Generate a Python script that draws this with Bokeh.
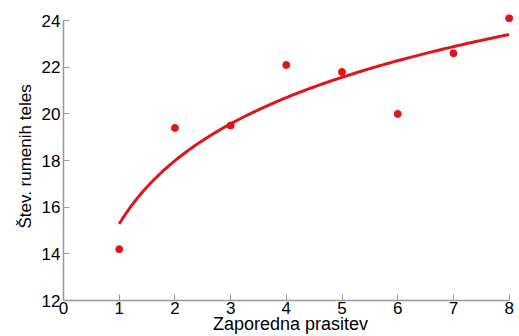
import numpy as np
from bokeh.plotting import figure
from bokeh.models import ColumnDataSource, FixedTicker
from bokeh.embed import file_html
from bokeh.resources import INLINE

# Data
litter_order = [1, 2, 3, 4, 5, 6, 7, 8]
corpora_lutea = [14.2, 19.4, 19.5, 22.1, 21.8, 20.0, 22.6, 24.1]
x_ticks = [0, 1, 2, 3, 4, 5, 6, 7, 8]
y_ticks = [12, 14, 16, 18, 20, 22, 24]

# Logarithmic trend line fitted to the points
b, a = np.polyfit(np.log(litter_order), corpora_lutea, 1)
xs = np.linspace(1, 8, 200)
ys = a + b * np.log(xs)

RED = "#e0141b"
FONT = "Liberation Sans"

p = figure(width=519, height=336, x_range=(0, 8.15), y_range=(12, 24.35),
           output_backend="svg", toolbar_location=None,
           min_border_left=63, min_border_right=2, min_border_top=12,
           min_border_bottom=36)

p.line(xs, ys, color=RED, line_width=3)
src = ColumnDataSource(dict(x=litter_order, y=corpora_lutea))
p.scatter("x", "y", source=src, size=7, color=RED)

p.grid.visible = False
p.outline_line_color = None
p.background_fill_color = "white"
p.border_fill_color = "white"

for ax in (p.xaxis[0], p.yaxis[0]):
    ax.axis_line_color = "#999999"
    ax.axis_line_width = 1.5
    ax.major_tick_line_color = "#999999"
    ax.major_tick_in = 6
    ax.major_tick_out = 0
    ax.minor_tick_line_color = None
    ax.major_label_text_font = FONT
    ax.major_label_text_font_size = "17px"
    ax.major_label_text_color = "black"
    ax.axis_label_text_font = FONT
    ax.axis_label_text_font_style = "normal"
    ax.axis_label_text_color = "black"

p.xaxis.bounds = (0, 8)
p.yaxis.bounds = (12, 24)
p.xaxis.ticker = FixedTicker(ticks=x_ticks)
p.yaxis.ticker = FixedTicker(ticks=y_ticks)
p.xaxis.axis_label = "Zaporedna prasitev"
p.yaxis.axis_label = "Štev. rumenih teles"
p.xaxis.axis_label_text_font_size = "18px"
p.yaxis.axis_label_text_font_size = "17px"
p.xaxis.major_label_standoff = 1
p.yaxis.major_label_standoff = 3
p.xaxis.axis_label_standoff = -3
p.yaxis.axis_label_standoff = 4

open("out.html", "w").write(file_html(p, INLINE))
